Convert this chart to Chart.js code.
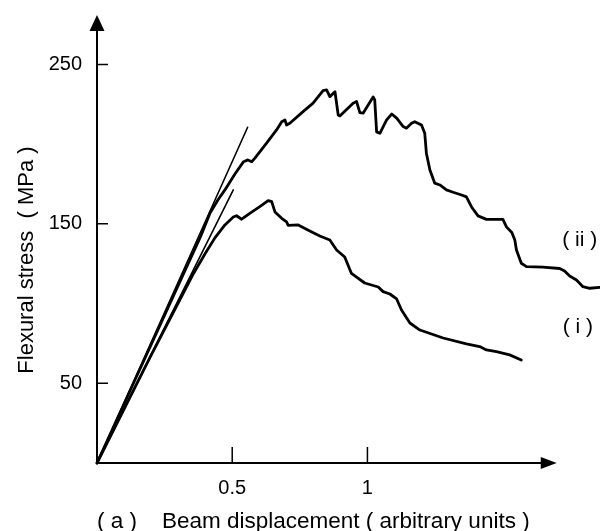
<!DOCTYPE html>
<html>
<head>
<meta charset="utf-8">
<title>Flexural stress vs beam displacement</title>
<script src="https://cdn.jsdelivr.net/npm/chart.js@4.4.1/dist/chart.umd.min.js"></script>
<style>
  html, body { margin: 0; padding: 0; background: #fff; }
  #wrap { width: 600px; height: 531px; }
</style>
</head>
<body>
<div id="wrap"><canvas id="stressChart" width="600" height="531"></canvas></div>
<script>
// beam displacement (arbitrary units) and flexural stress (MPa)
const dispII = [0, 0.384, 0.418, 0.447, 0.473, 0.510, 0.542, 0.558, 0.572, 0.584,
    0.627, 0.664, 0.683, 0.695, 0.701, 0.713, 0.762, 0.799, 0.836, 0.849,
    0.861, 0.880, 0.892, 0.898, 0.947, 0.960, 0.972, 0.984, 1.021, 1.027,
    1.034, 1.046, 1.071, 1.090, 1.109, 1.132, 1.144, 1.163, 1.175, 1.200,
    1.212, 1.218, 1.231, 1.249, 1.268, 1.292, 1.317, 1.348, 1.366, 1.385,
    1.409, 1.440, 1.501, 1.514, 1.534, 1.545, 1.551, 1.569, 1.588, 1.649,
    1.711, 1.729, 1.748, 1.773, 1.797, 1.822, 1.859];
const stressII = [0, 142.4, 156.8, 165.0, 171.3, 181.3, 189.0, 190.1, 189.0, 191.2,
    200.6, 208.9, 214.1, 215.2, 212.0, 213.1, 220.4, 225.7, 233.6, 234.0,
    229.8, 232.9, 218.3, 217.7, 225.7, 226.7, 219.8, 219.4, 229.6, 227.7,
    207.7, 206.8, 215.2, 218.9, 216.2, 211.0, 210.0, 213.1, 214.1, 212.0,
    206.8, 194.3, 183.8, 175.5, 174.4, 171.3, 169.8, 168.1, 166.9, 160.6,
    155.0, 152.8, 152.8, 148.1, 144.6, 139.9, 133.6, 125.3, 123.2, 122.8,
    122.0, 120.5, 117.3, 114.8, 110.6, 109.6, 110.1];

const dispI = [0, 0.197, 0.358, 0.399, 0.436, 0.473, 0.504, 0.516, 0.535, 0.565,
    0.602, 0.633, 0.646, 0.658, 0.683, 0.701, 0.707, 0.744, 0.787, 0.824,
    0.861, 0.886, 0.916, 0.941, 0.961, 0.990, 1.040, 1.058, 1.083, 1.108,
    1.126, 1.157, 1.194, 1.280, 1.366, 1.415, 1.440, 1.477, 1.526, 1.569];
const stressI = [0, 66.5, 119.2, 131.1, 141.2, 149.3, 154.3, 155.1, 152.9, 156.6,
    160.8, 164.6, 163.9, 157.5, 153.5, 151.2, 149.0, 149.3, 145.5, 142.4,
    139.9, 133.6, 129.2, 118.9, 116.4, 112.9, 110.4, 107.5, 106.0, 102.9,
    96.0, 87.8, 83.4, 78.4, 74.7, 73.0, 70.9, 69.8, 67.8, 64.6];

// initial slopes drawn as straight lines from the origin
const tangentIIDisp = [0, 0.557];
const tangentIIStress = [0, 210.6];
const tangentIDisp = [0, 0.504];
const tangentIStress = [0, 171.3];

const xTicks = [0.5, 1];
const xTickLabels = ['0.5', '1'];
const yTicks = [50, 150, 250];
const yTickLabels = ['50', '150', '250'];

// where the axis arrows end
const xAxisEnd = 1.7;
const yAxisEnd = 281;

const curveNames = ['( ii )', '( i )'];
const curveNameDisp = [1.785, 1.778];
const curveNameStress = [139.9, 85.3];

const xTitle = '( a )    Beam displacement ( arbitrary units )';
const yTitle = 'Flexural stress  ( MPa )';

const FONT = '"Liberation Sans", Arial, Helvetica, sans-serif';
Chart.defaults.font.family = FONT;
Chart.defaults.color = '#000';

const toPoints = (xs, ys) => xs.map((v, i) => ({ x: v, y: ys[i] }));

const lineSet = (xs, ys, width) => ({
    data: toPoints(xs, ys),
    showLine: true,
    borderColor: '#000',
    borderWidth: width,
    borderJoinStyle: 'round',
    borderCapStyle: 'round',
    pointRadius: 0,
    tension: 0,
    clip: false
});

// axis lines with arrow heads, inward tick marks and text
const arrowAxes = {
    id: 'arrowAxes',
    afterDraw(chart) {
        const { ctx, scales: { x, y } } = chart;
        const x0 = x.getPixelForValue(0);
        const y0 = y.getPixelForValue(0);
        const xEnd = x.getPixelForValue(xAxisEnd);
        const yEnd = y.getPixelForValue(yAxisEnd);
        ctx.save();
        ctx.strokeStyle = '#000';
        ctx.fillStyle = '#000';

        ctx.lineWidth = 2;
        ctx.beginPath();
        ctx.moveTo(x0, y0);
        ctx.lineTo(x0, yEnd + 10);
        ctx.moveTo(x0, y0);
        ctx.lineTo(xEnd - 10, y0);
        ctx.stroke();

        ctx.beginPath();
        ctx.moveTo(x0, yEnd);
        ctx.lineTo(x0 - 7.5, yEnd + 16);
        ctx.lineTo(x0 + 7.5, yEnd + 16);
        ctx.closePath();
        ctx.moveTo(xEnd, y0);
        ctx.lineTo(xEnd - 16, y0 - 6);
        ctx.lineTo(xEnd - 16, y0 + 6);
        ctx.closePath();
        ctx.fill();

        ctx.lineWidth = 1.5;
        ctx.beginPath();
        xTicks.forEach(v => {
            const px = x.getPixelForValue(v);
            ctx.moveTo(px, y0);
            ctx.lineTo(px, y0 - 16);
        });
        yTicks.forEach(v => {
            const py = y.getPixelForValue(v);
            ctx.moveTo(x0, py);
            ctx.lineTo(x0 + 11, py);
        });
        ctx.stroke();

        ctx.textAlign = 'center';
        ctx.textBaseline = 'middle';
        ctx.font = '21px ' + FONT;
        curveNames.forEach((name, i) => {
            ctx.fillText(name, x.getPixelForValue(curveNameDisp[i]), y.getPixelForValue(curveNameStress[i]));
        });

        ctx.font = '22px ' + FONT;
        ctx.translate(27, 260);
        ctx.rotate(-Math.PI / 2);
        ctx.fillText(yTitle, 0, 0);
        ctx.restore();
    }
};

new Chart(document.getElementById('stressChart'), {
    type: 'scatter',
    data: {
        datasets: [
            lineSet(tangentIIDisp, tangentIIStress, 1.6),
            lineSet(tangentIDisp, tangentIStress, 1.6),
            lineSet(dispII, stressII, 2.8),
            lineSet(dispI, stressI, 2.8)
        ]
    },
    options: {
        responsive: false,
        animation: false,
        devicePixelRatio: 1,
        layout: { padding: { left: 0, top: 15, right: 0, bottom: 0 } },
        plugins: {
            legend: { display: false },
            tooltip: { enabled: false }
        },
        scales: {
            x: {
                type: 'linear',
                min: 0,
                max: 1.86,
                grid: { display: false, drawTicks: false },
                border: { display: false },
                afterBuildTicks: s => { s.ticks = xTicks.map(v => ({ value: v })); },
                afterFit: s => { s.height = 68; s.paddingLeft = 0; s.paddingRight = 0; },
                ticks: {
                    autoSkip: false,
                    maxRotation: 0,
                    padding: 13,
                    font: { size: 20 },
                    callback: v => xTickLabels[xTicks.indexOf(v)]
                },
                title: {
                    display: true,
                    text: xTitle,
                    align: 'start',
                    font: { size: 22.5 },
                    padding: { top: 0, bottom: -4 }
                }
            },
            y: {
                type: 'linear',
                min: 0,
                max: yAxisEnd,
                grid: { display: false, drawTicks: false },
                border: { display: false },
                afterBuildTicks: s => { s.ticks = yTicks.map(v => ({ value: v })); },
                afterFit: s => { s.width = 97; s.paddingTop = 0; s.paddingBottom = 0; },
                ticks: {
                    autoSkip: false,
                    padding: 15,
                    font: { size: 20 },
                    callback: v => yTickLabels[yTicks.indexOf(v)]
                }
            }
        }
    },
    plugins: [arrowAxes]
});
</script>
</body>
</html>
